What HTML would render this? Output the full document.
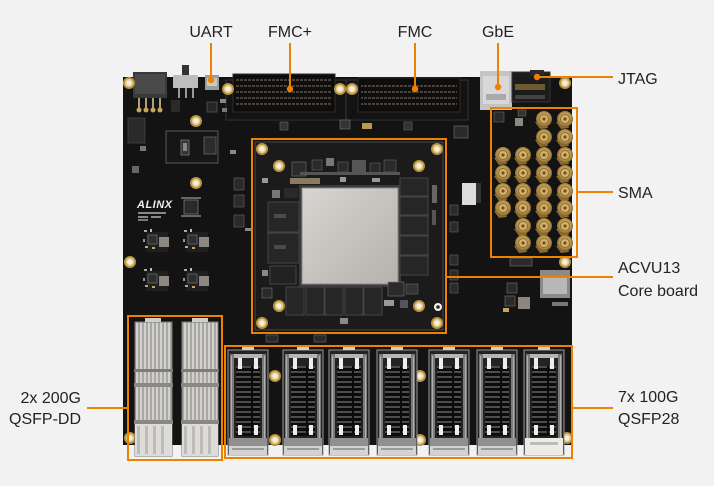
<!DOCTYPE html>
<html>
<head>
<meta charset="utf-8">
<style>
html,body{margin:0;padding:0;background:#f2f2f2;}
svg{display:block;}
text{font-family:"Liberation Sans",sans-serif;}
</style>
</head>
<body>
<svg width="714" height="486" viewBox="0 0 714 486" xmlns="http://www.w3.org/2000/svg">
<defs>
  <radialGradient id="gold" cx="50%" cy="45%" r="55%">
    <stop offset="0" stop-color="#ecd699"/>
    <stop offset="0.6" stop-color="#c09a52"/>
    <stop offset="1" stop-color="#7a5d2a"/>
  </radialGradient>
  <linearGradient id="lid" x1="0" y1="0" x2="1" y2="1">
    <stop offset="0" stop-color="#d8d6d2"/>
    <stop offset="0.5" stop-color="#c6c3be"/>
    <stop offset="1" stop-color="#b5b2ad"/>
  </linearGradient>
  <pattern id="ladder" width="24" height="5" patternUnits="userSpaceOnUse">
    <rect width="24" height="5" fill="#0b0b0b"/>
    <rect x="1" y="1" width="22" height="2" fill="#4d4d4d"/>
  </pattern>
  <pattern id="fins" width="4" height="10" patternUnits="userSpaceOnUse">
    <rect width="4" height="10" fill="#a9a7a3"/>
    <rect x="0" width="2" height="10" fill="#d2d0cc"/>
  </pattern>
  <pattern id="fmcpins" width="4" height="6" patternUnits="userSpaceOnUse">
    <rect width="4" height="6" fill="#0e0e0e"/>
    <rect x="0" y="1" width="3" height="2" fill="#4a4038"/>
  </pattern>
  <g id="hole">
    <circle r="6" fill="#b8923f"/>
    <circle r="4.2" fill="#e2c98a"/>
    <circle r="2.6" fill="#f4efe0"/>
  </g>
  <g id="sma">
    <path d="M-9,3 L-4,10 L4,9 L2,2 Z" fill="#8c6a2c"/>
    <circle r="8" fill="url(#gold)"/>
    <circle r="4.5" fill="#d4b36e" stroke="#8a6a2a" stroke-width="1"/>
    <circle r="1.6" fill="#6d5220"/>
  </g>
  <g id="q28">
    <rect x="0" y="0" width="40" height="105" fill="#232323" stroke="#9a9a9a" stroke-width="1"/>
    <rect x="2" y="4" width="4" height="86" fill="#7a7a7a"/>
    <rect x="34" y="4" width="4" height="86" fill="#7a7a7a"/>
    <rect x="3" y="6" width="1" height="82" fill="#b0b0b0"/>
    <rect x="36" y="6" width="1" height="82" fill="#b0b0b0"/>
    <rect x="8" y="16" width="24" height="70" fill="url(#ladder)"/>
    <rect x="6" y="4" width="28" height="4" fill="#b5b5b5"/>
    <rect x="10" y="8" width="4" height="11" fill="#eeeeee"/>
    <rect x="26" y="8" width="4" height="11" fill="#eeeeee"/>
    <rect x="10" y="75" width="4" height="10" fill="#eeeeee"/>
    <rect x="26" y="75" width="4" height="10" fill="#eeeeee"/>
    <rect x="1" y="88" width="38" height="8" fill="#8f8f8f"/>
    <rect x="1" y="96" width="38" height="9" fill="#d3d3d3"/>
    <rect x="4" y="98" width="32" height="2" fill="#9a9a9a"/>
    <rect x="14" y="-3" width="12" height="3" fill="#cfcfcf"/>
  </g>
  <g id="pm">
    <rect x="-4" y="-4" width="22" height="20" fill="#1f1f1f"/>
    <rect x="-2" y="-1" width="9" height="9" fill="#2e2e2e" stroke="#6b6b6b" stroke-width="0.8"/>
    <rect x="9" y="1" width="10" height="10" fill="#8d8782"/>
    <rect x="-6" y="-6" width="3" height="2" fill="#aaa"/>
    <rect x="0" y="-7" width="2" height="3" fill="#bbb"/>
    <rect x="-5" y="10" width="3" height="2" fill="#aaa"/>
    <rect x="2" y="11" width="3" height="2" fill="#c9a45a"/>
    <rect x="-7" y="3" width="2" height="3" fill="#999"/>
  </g>
</defs>

<rect width="714" height="486" fill="#f2f2f2"/>

<!-- main board -->
<rect x="123" y="77" width="449" height="368" fill="#131313"/>

<!-- silkscreen outlines -->
<rect x="226" y="80" width="120" height="40" fill="none" stroke="#3c3c3c" stroke-width="0.8"/>
<rect x="346" y="80" width="122" height="40" fill="none" stroke="#3c3c3c" stroke-width="0.8"/>
<rect x="166" y="131" width="52" height="32" fill="#161616" stroke="#5a5a5a" stroke-width="1"/>
<rect x="181" y="140" width="8" height="15" fill="#333" stroke="#777" stroke-width="0.8"/>
<rect x="183" y="143" width="4" height="8" fill="#888"/>
<rect x="204" y="137" width="12" height="17" fill="#2c2c2c" stroke="#666" stroke-width="0.8"/>

<!-- FMC connectors -->
<rect x="233" y="74" width="102" height="38" fill="#0c0c0c" stroke="#2e2e2e"/>
<rect x="236" y="77" width="96" height="32" fill="url(#fmcpins)"/>
<rect x="358" y="78" width="102" height="34" fill="#0c0c0c" stroke="#2e2e2e"/>
<rect x="361" y="81" width="96" height="28" fill="url(#fmcpins)"/>

<!-- power connector -->
<rect x="133" y="72" width="34" height="26" fill="#3a3a3a"/>
<rect x="135" y="74" width="30" height="20" fill="#4a4a4a"/>
<rect x="138" y="98" width="2" height="10" fill="#b0a080"/>
<rect x="145" y="98" width="2" height="10" fill="#b0a080"/>
<rect x="152" y="98" width="2" height="10" fill="#b0a080"/>
<rect x="159" y="98" width="2" height="10" fill="#b0a080"/>
<circle cx="139" cy="110" r="2.5" fill="#c9a45a"/>
<circle cx="146" cy="110" r="2.5" fill="#c9a45a"/>
<circle cx="153" cy="110" r="2.5" fill="#c9a45a"/>
<circle cx="160" cy="110" r="2.5" fill="#c9a45a"/>
<!-- switch -->
<rect x="182" y="65" width="7" height="11" fill="#333"/>
<rect x="173" y="75" width="25" height="13" fill="#bdbdbd"/>
<rect x="178" y="88" width="2" height="10" fill="#999"/>
<rect x="185" y="88" width="2" height="10" fill="#999"/>
<rect x="192" y="88" width="2" height="10" fill="#999"/>
<rect x="171" y="100" width="9" height="12" fill="#2a2a2a"/>
<!-- UART -->
<rect x="205" y="75" width="14" height="15" fill="#9c9c9c"/>
<rect x="207" y="78" width="10" height="8" fill="#c9c9c9"/>
<rect x="207" y="102" width="10" height="10" fill="#262626" stroke="#555" stroke-width="0.8"/>
<rect x="220" y="99" width="6" height="4" fill="#888"/>
<rect x="222" y="108" width="5" height="4" fill="#777"/>

<rect x="128" y="118" width="17" height="25" fill="#2a2a2a" stroke="#444" stroke-width="0.8"/>
<rect x="140" y="146" width="6" height="5" fill="#777"/>
<rect x="132" y="166" width="7" height="7" fill="#666"/>

<!-- ALINX logo -->
<text x="137" y="208" font-size="11" font-weight="bold" font-style="italic" fill="#f0f0f0" letter-spacing="0.5">ALINX</text>
<rect x="138" y="212" width="28" height="2" fill="#888"/>
<rect x="138" y="216" width="10" height="2" fill="#888"/>
<rect x="151" y="216" width="10" height="2" fill="#888"/>
<rect x="138" y="219" width="10" height="2" fill="#777"/>

<rect x="184" y="200" width="14" height="14" fill="#2a2a2a" stroke="#777" stroke-width="0.8"/>
<rect x="181" y="197" width="20" height="2" fill="#666"/>
<rect x="181" y="215" width="20" height="2" fill="#666"/>

<use href="#pm" x="150" y="236"/>
<use href="#pm" x="190" y="236"/>
<use href="#pm" x="150" y="275"/>
<use href="#pm" x="190" y="275"/>

<rect x="234" y="178" width="10" height="12" fill="#2a2a2a" stroke="#666" stroke-width="0.6"/>
<rect x="234" y="195" width="10" height="12" fill="#2a2a2a" stroke="#666" stroke-width="0.6"/>
<rect x="234" y="215" width="10" height="12" fill="#2a2a2a" stroke="#666" stroke-width="0.6"/>
<rect x="245" y="228" width="6" height="3" fill="#888"/>
<rect x="230" y="150" width="6" height="4" fill="#888"/>
<rect x="280" y="122" width="8" height="8" fill="#333" stroke="#666" stroke-width="0.6"/>
<rect x="340" y="120" width="10" height="9" fill="#333" stroke="#777" stroke-width="0.6"/>
<rect x="362" y="123" width="10" height="6" fill="#b89a50"/>
<rect x="404" y="122" width="8" height="8" fill="#333" stroke="#666" stroke-width="0.6"/>
<rect x="454" y="126" width="14" height="12" fill="#2a2a2a" stroke="#777" stroke-width="0.6"/>

<!-- RJ45 -->
<rect x="480" y="71" width="32" height="39" fill="#c4c4c4"/>
<rect x="483" y="76" width="26" height="28" fill="#d8d8d8"/>
<rect x="486" y="94" width="20" height="6" fill="#aaa"/>
<!-- JTAG -->
<rect x="512" y="72" width="38" height="30" fill="#1c1c1c" stroke="#333"/>
<rect x="530" y="70" width="14" height="5" fill="#2b2b2b"/>
<rect x="515" y="84" width="30" height="6" fill="#6d5a35"/>
<rect x="515" y="95" width="30" height="4" fill="#444"/>
<rect x="518" y="110" width="8" height="6" fill="#333" stroke="#666" stroke-width="0.6"/>
<rect x="540" y="112" width="6" height="8" fill="#999"/>

<rect x="462" y="183" width="14" height="22" fill="#dcdcdc"/>
<rect x="476" y="183" width="5" height="20" fill="#333"/>
<rect x="450" y="205" width="8" height="10" fill="#2a2a2a" stroke="#666" stroke-width="0.6"/>
<rect x="450" y="222" width="8" height="10" fill="#2a2a2a" stroke="#666" stroke-width="0.6"/>
<rect x="450" y="255" width="8" height="10" fill="#2a2a2a" stroke="#666" stroke-width="0.6"/>
<rect x="450" y="270" width="8" height="10" fill="#2a2a2a" stroke="#666" stroke-width="0.6"/>
<rect x="450" y="283" width="8" height="10" fill="#2a2a2a" stroke="#666" stroke-width="0.6"/>
<rect x="510" y="258" width="22" height="8" fill="#2a2a2a" stroke="#777" stroke-width="0.6"/>
<rect x="540" y="270" width="30" height="28" fill="#8a8a8a"/>
<rect x="543" y="276" width="24" height="18" fill="#b8b8b8"/>
<rect x="507" y="283" width="10" height="10" fill="#2a2a2a" stroke="#777" stroke-width="0.6"/>
<rect x="505" y="296" width="10" height="10" fill="#2a2a2a" stroke="#777" stroke-width="0.6"/>
<rect x="518" y="297" width="12" height="12" fill="#8c8580"/>
<rect x="503" y="308" width="6" height="4" fill="#c9a45a"/>
<rect x="552" y="302" width="16" height="4" fill="#777"/>

<use href="#hole" x="129" y="83"/>
<use href="#hole" x="228" y="89"/>
<use href="#hole" x="340" y="89"/>
<use href="#hole" x="352" y="89"/>
<use href="#hole" x="196" y="121"/>
<use href="#hole" x="196" y="183"/>
<use href="#hole" x="130" y="262"/>
<use href="#hole" x="565" y="83"/>
<use href="#hole" x="565" y="262"/>
<use href="#hole" x="275" y="376"/>
<use href="#hole" x="275" y="440"/>
<use href="#hole" x="420" y="376"/>
<use href="#hole" x="420" y="440"/>
<use href="#hole" x="130" y="438"/>
<use href="#hole" x="567" y="438"/>

<!-- core board -->
<rect x="255" y="142" width="188" height="188" fill="#1b1b1b" stroke="#4a4a4a" stroke-width="1"/>
<use href="#hole" x="262" y="149"/>
<use href="#hole" x="437" y="149"/>
<use href="#hole" x="262" y="323"/>
<use href="#hole" x="437" y="323"/>
<use href="#hole" x="279" y="166"/>
<use href="#hole" x="419" y="166"/>
<use href="#hole" x="279" y="306"/>
<use href="#hole" x="419" y="306"/>
<circle cx="438" cy="307" r="4" fill="#f4f4f4"/>
<circle cx="438" cy="307" r="1.8" fill="#222"/>

<rect x="292" y="162" width="14" height="14" fill="#2a2a2a" stroke="#777" stroke-width="0.6"/>
<rect x="290" y="178" width="30" height="6" fill="#8a7a60"/>
<rect x="312" y="160" width="10" height="10" fill="#2a2a2a" stroke="#666" stroke-width="0.6"/>
<rect x="326" y="158" width="8" height="8" fill="#777"/>
<rect x="338" y="162" width="10" height="10" fill="#2a2a2a" stroke="#666" stroke-width="0.6"/>
<rect x="352" y="160" width="14" height="12" fill="#555"/>
<rect x="370" y="163" width="10" height="10" fill="#2a2a2a" stroke="#666" stroke-width="0.6"/>
<rect x="384" y="160" width="12" height="12" fill="#2a2a2a" stroke="#666" stroke-width="0.6"/>
<rect x="300" y="172" width="100" height="3" fill="#555"/>
<rect x="340" y="177" width="6" height="5" fill="#999"/>
<rect x="372" y="178" width="8" height="4" fill="#999"/>
<rect x="262" y="178" width="6" height="5" fill="#999"/>
<rect x="272" y="190" width="8" height="8" fill="#777"/>
<rect x="284" y="188" width="14" height="10" fill="#2a2a2a"/>

<rect x="268" y="202" width="31" height="30" fill="#262626" stroke="#444"/>
<rect x="268" y="233" width="31" height="30" fill="#262626" stroke="#444"/>
<rect x="274" y="214" width="12" height="4" fill="#4a4a4a"/>
<rect x="274" y="245" width="12" height="4" fill="#4a4a4a"/>
<rect x="270" y="266" width="26" height="18" fill="#222" stroke="#444"/>
<rect x="262" y="270" width="6" height="6" fill="#888"/>
<rect x="262" y="288" width="10" height="10" fill="#2a2a2a" stroke="#777" stroke-width="0.6"/>

<rect x="299" y="185" width="102" height="102" fill="#3a3a3a"/>
<rect x="302" y="188" width="96" height="96" fill="url(#lid)" stroke="#8a8a8a" stroke-width="1"/>

<rect x="400" y="178" width="28" height="18" fill="#262626" stroke="#444"/>
<rect x="400" y="197" width="28" height="18" fill="#262626" stroke="#444"/>
<rect x="400" y="216" width="28" height="19" fill="#262626" stroke="#444"/>
<rect x="400" y="236" width="28" height="19" fill="#262626" stroke="#444"/>
<rect x="400" y="256" width="28" height="19" fill="#262626" stroke="#444"/>
<rect x="432" y="185" width="5" height="18" fill="#666"/>
<rect x="432" y="210" width="4" height="15" fill="#555"/>

<rect x="286" y="287" width="18" height="28" fill="#262626" stroke="#444"/>
<rect x="306" y="287" width="18" height="28" fill="#262626" stroke="#444"/>
<rect x="325" y="287" width="18" height="28" fill="#262626" stroke="#444"/>
<rect x="345" y="287" width="18" height="28" fill="#262626" stroke="#444"/>
<rect x="364" y="287" width="18" height="28" fill="#262626" stroke="#444"/>
<rect x="388" y="282" width="16" height="14" fill="#2a2a2a" stroke="#777" stroke-width="0.6"/>
<rect x="406" y="284" width="12" height="10" fill="#333" stroke="#666" stroke-width="0.6"/>
<rect x="384" y="300" width="10" height="6" fill="#999"/>
<rect x="400" y="300" width="8" height="8" fill="#555"/>
<rect x="340" y="318" width="8" height="6" fill="#888"/>

<rect x="266" y="335" width="12" height="7" fill="#2a2a2a" stroke="#666" stroke-width="0.6"/>
<rect x="314" y="335" width="12" height="7" fill="#2a2a2a" stroke="#666" stroke-width="0.6"/>

<!-- SMA -->
<use href="#sma" x="544" y="119"/><use href="#sma" x="565" y="119"/>
<use href="#sma" x="544" y="137"/><use href="#sma" x="565" y="137"/>
<use href="#sma" x="503" y="155"/><use href="#sma" x="523" y="155"/><use href="#sma" x="544" y="155"/><use href="#sma" x="565" y="155"/>
<use href="#sma" x="503" y="173"/><use href="#sma" x="523" y="173"/><use href="#sma" x="544" y="173"/><use href="#sma" x="565" y="173"/>
<use href="#sma" x="503" y="191"/><use href="#sma" x="523" y="191"/><use href="#sma" x="544" y="191"/><use href="#sma" x="565" y="191"/>
<use href="#sma" x="503" y="208"/><use href="#sma" x="523" y="208"/><use href="#sma" x="544" y="208"/><use href="#sma" x="565" y="208"/>
<use href="#sma" x="523" y="226"/><use href="#sma" x="544" y="226"/><use href="#sma" x="565" y="226"/>
<use href="#sma" x="523" y="243"/><use href="#sma" x="544" y="243"/><use href="#sma" x="565" y="243"/>
<rect x="494" y="112" width="10" height="10" fill="#2a2a2a" stroke="#666" stroke-width="0.6"/>
<rect x="515" y="118" width="8" height="8" fill="#8d8782"/>

<!-- QSFP-DD -->
<rect x="124" y="445" width="100" height="20" fill="#f2f2f2"/>
<g>
  <rect x="135" y="322" width="37" height="134" fill="url(#fins)" stroke="#777" stroke-width="1"/>
  <rect x="134" y="369" width="39" height="3" fill="#7d7b77"/>
  <rect x="134" y="383" width="39" height="4" fill="#8a8884"/>
  <rect x="134" y="420" width="39" height="4" fill="#8a8884"/>
  <rect x="135" y="424" width="37" height="32" fill="#dedcd8"/>
  <rect x="137" y="426" width="3" height="28" fill="#bdbbb7"/><rect x="145" y="426" width="3" height="28" fill="#bdbbb7"/><rect x="153" y="426" width="3" height="28" fill="#bdbbb7"/><rect x="161" y="426" width="3" height="28" fill="#bdbbb7"/>
  <rect x="145" y="318" width="16" height="4" fill="#cfcfcf"/>
</g>
<g>
  <rect x="182" y="322" width="36" height="134" fill="url(#fins)" stroke="#777" stroke-width="1"/>
  <rect x="181" y="369" width="38" height="3" fill="#7d7b77"/>
  <rect x="181" y="383" width="38" height="4" fill="#8a8884"/>
  <rect x="181" y="420" width="38" height="4" fill="#8a8884"/>
  <rect x="182" y="424" width="36" height="32" fill="#dedcd8"/>
  <rect x="184" y="426" width="3" height="28" fill="#bdbbb7"/><rect x="192" y="426" width="3" height="28" fill="#bdbbb7"/><rect x="200" y="426" width="3" height="28" fill="#bdbbb7"/><rect x="208" y="426" width="3" height="28" fill="#bdbbb7"/>
  <rect x="192" y="318" width="16" height="4" fill="#cfcfcf"/>
</g>

<!-- QSFP28 -->
<use href="#q28" x="228" y="350"/>
<use href="#q28" x="283" y="350"/>
<use href="#q28" x="329" y="350"/>
<use href="#q28" x="377" y="350"/>
<use href="#q28" x="429" y="350"/>
<use href="#q28" x="477" y="350"/>
<g transform="translate(524,350)">
  <use href="#q28"/>
  <rect x="1" y="88" width="38" height="17" fill="#ecebe6"/>
  <rect x="6" y="92" width="28" height="3" fill="#bbb"/>
</g>

<!-- orange annotations -->
<g stroke="#ee8200" stroke-width="2" fill="none">
  <line x1="211" y1="43" x2="211" y2="80"/>
  <line x1="290" y1="43" x2="290" y2="89"/>
  <line x1="415" y1="43" x2="415" y2="89"/>
  <line x1="498" y1="43" x2="498" y2="87"/>
  <line x1="537" y1="77" x2="613" y2="77"/>
  <rect x="491" y="108" width="86" height="149"/>
  <line x1="577" y1="192" x2="613" y2="192"/>
  <rect x="252" y="139" width="194" height="194"/>
  <line x1="446" y1="277" x2="613" y2="277"/>
  <rect x="128" y="316" width="94" height="144"/>
  <line x1="87" y1="408" x2="128" y2="408"/>
  <rect x="225" y="346" width="347" height="112"/>
  <line x1="572" y1="408" x2="613" y2="408"/>
</g>
<g fill="#ee8200">
  <circle cx="211" cy="80" r="3.2"/>
  <circle cx="290" cy="89" r="3.2"/>
  <circle cx="415" cy="89" r="3.2"/>
  <circle cx="498" cy="87" r="3.2"/>
  <circle cx="537" cy="77" r="3.2"/>
</g>

<g font-size="16" fill="#222">
  <text x="211" y="37" text-anchor="middle">UART</text>
  <text x="290" y="37" text-anchor="middle">FMC+</text>
  <text x="415" y="37" text-anchor="middle">FMC</text>
  <text x="498" y="37" text-anchor="middle">GbE</text>
  <text x="618" y="84">JTAG</text>
  <text x="618" y="198">SMA</text>
  <text x="618" y="273">ACVU13</text>
  <text x="618" y="296">Core board</text>
  <text x="618" y="402">7x 100G</text>
  <text x="618" y="424">QSFP28</text>
  <text x="81" y="403" text-anchor="end">2x 200G</text>
  <text x="81" y="424" text-anchor="end">QSFP-DD</text>
</g>
</svg>
</body>
</html>
